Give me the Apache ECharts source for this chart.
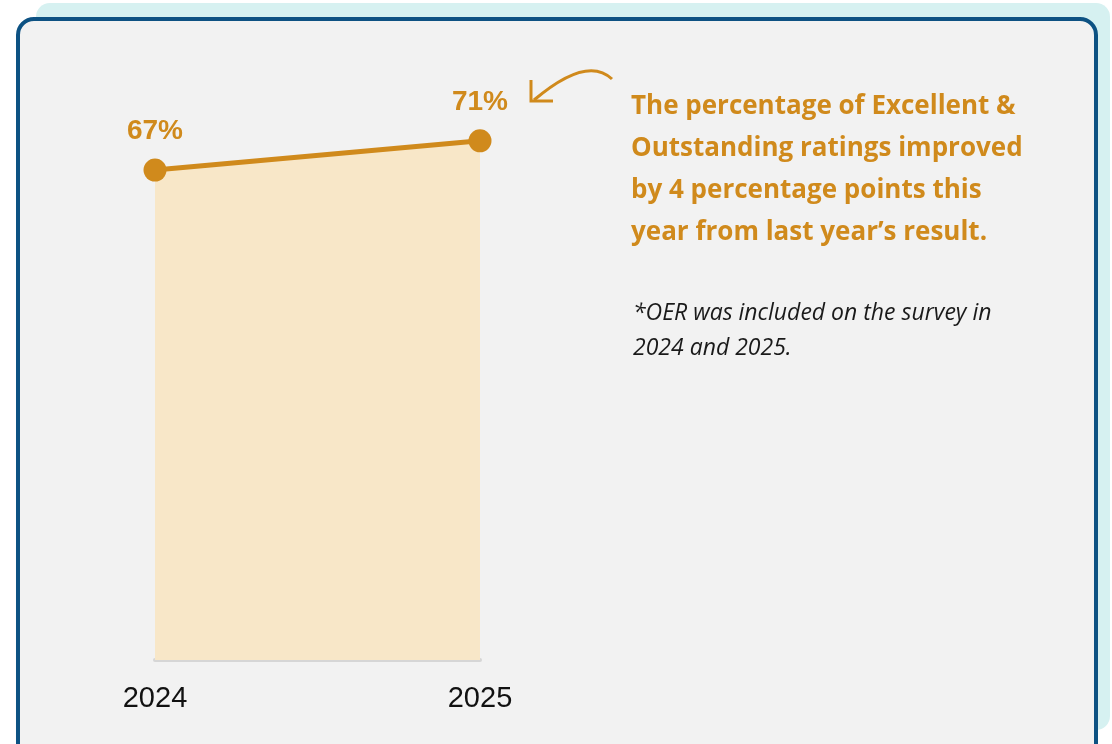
<!DOCTYPE html>
<html>
<head>
<meta charset="utf-8">
<title>Excellent &amp; Outstanding ratings</title>
<script src="https://cdn.jsdelivr.net/npm/echarts@6/dist/echarts.min.js"></script>
<style>
  html, body { margin: 0; padding: 0; background: #ffffff; }
  #chart { width: 1112px; height: 744px; }
</style>
</head>
<body>
<div id="chart"></div>
<script>
// Survey years and share of Excellent & Outstanding ratings (%)
const years = ['2024', '2025'];
const ratingShare = [67, 71];

const headlineLines = [
  'The percentage of Excellent &',
  'Outstanding ratings improved',
  'by 4 percentage points this',
  'year from last year\u2019s result.'
];
const noteLines = [
  '*OER was included on the survey in',
  '2024 and 2025.'
];

const ORANGE = '#d08a1c';
const chart = echarts.init(document.getElementById('chart'));

const graphics = [
  // back panel
  { type: 'rect', z: -20, silent: true,
    shape: { x: 36, y: 3, width: 1074, height: 727, r: 14 },
    style: { fill: '#d6f1f1' } },
  // card
  { type: 'rect', z: -10, silent: true,
    shape: { x: 18, y: 19, width: 1078, height: 740, r: 16 },
    style: { fill: '#f2f2f2', stroke: '#0d5283', lineWidth: 4 } },
  // callout arrow
  { type: 'bezierCurve', silent: true,
    shape: { x1: 612, y1: 79, x2: 534, y2: 100, cpx1: 587, cpy1: 55 },
    style: { stroke: ORANGE, lineWidth: 3, fill: null } },
  { type: 'polyline', silent: true,
    shape: { points: [[531, 80], [531, 101], [553, 101]] },
    style: { stroke: ORANGE, lineWidth: 3, fill: null } }
];

headlineLines.forEach(function (t, i) {
  graphics.push({ type: 'text', silent: true, left: 631, top: 94 + i * 42,
    style: { text: t, fill: ORANGE, font: 'bold 26px "Open Sans", Lato, sans-serif' } });
});
noteLines.forEach(function (t, i) {
  graphics.push({ type: 'text', silent: true, left: 633, top: 302 + i * 35,
    style: { text: t, fill: '#1a1a1a', font: 'italic 23px "Open Sans", Lato, sans-serif' } });
});

chart.setOption({
  animation: false,
  backgroundColor: 'transparent',
  grid: { left: 155, right: 632, top: 75, bottom: 84, containLabel: false },
  xAxis: {
    type: 'category',
    data: years,
    boundaryGap: false,
    axisLine: { show: true, lineStyle: { color: '#d6d6d6', width: 4 } },
    axisTick: { show: false },
    axisLabel: { color: '#111111', fontSize: 29, margin: 24,
      fontFamily: '"Liberation Sans", Arial, sans-serif' }
  },
  yAxis: {
    type: 'value', min: 0, max: 80, show: false,
    splitLine: { show: false }
  },
  series: [{
    type: 'line',
    data: ratingShare,
    symbol: 'circle',
    symbolSize: 23,
    lineStyle: { color: ORANGE, width: 5 },
    itemStyle: { color: ORANGE },
    areaStyle: { color: '#f8e7c8', opacity: 1 },
    label: {
      show: true, position: 'top', distance: 13,
      formatter: '{c}%', color: ORANGE, fontSize: 28, fontWeight: 'bold',
      fontFamily: '"Liberation Sans", Arial, sans-serif'
    }
  }],
  graphic: graphics
});
</script>
</body>
</html>
